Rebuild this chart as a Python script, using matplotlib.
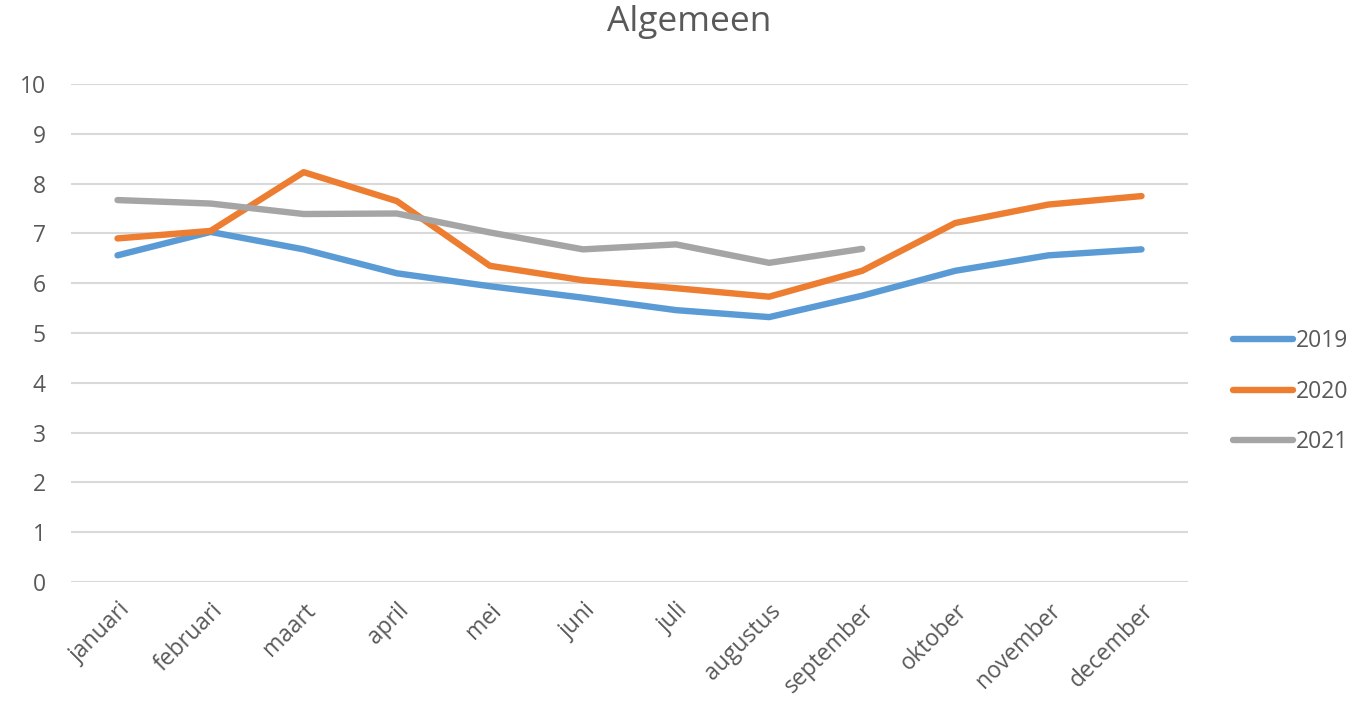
import matplotlib
matplotlib.use("Agg")
import matplotlib.pyplot as plt

plt.rcParams['font.family'] = ['Open Sans', 'DejaVu Sans']

months = ["januari", "februari", "maart", "april", "mei", "juni", "juli",
          "augustus", "september", "oktober", "november", "december"]
v2019 = [6.56, 7.03, 6.68, 6.2, 5.94, 5.71, 5.46, 5.32, 5.75, 6.25, 6.56, 6.68]
v2020 = [6.9, 7.05, 8.23, 7.65, 6.35, 6.06, 5.9, 5.73, 6.25, 7.21, 7.58, 7.75]
v2021 = [7.67, 7.6, 7.39, 7.4, 7.02, 6.68, 6.78, 6.41, 6.69]
series_labels = ["2019", "2020", "2021"]
colors = ["#5B9BD5", "#ED7D31", "#A5A5A5"]
yticks = list(range(0, 11))

fig = plt.figure(figsize=(13.57, 7.03), dpi=100)
ax = fig.add_axes([0.0523, 0.172, 0.8232, 0.7085])

x_all = list(range(len(months)))
for vals, lab, c in zip([v2019, v2020, v2021], series_labels, colors):
    ax.plot(x_all[:len(vals)], vals, color=c, lw=4.6, label=lab,
            solid_capstyle='round', solid_joinstyle='round')

ax.set_xlim(-0.5, len(months) - 0.5)
ax.set_ylim(0, 10)
ax.set_yticks(yticks)
ax.set_yticklabels([str(t) for t in yticks])
ax.set_xticks(x_all)
ax.set_xticklabels(months, rotation=45, ha='right', rotation_mode='anchor')
ax.tick_params(axis='both', length=0, labelsize=16.5, colors='#595959')
ax.tick_params(axis='y', pad=18)
ax.tick_params(axis='x', pad=12)
ax.grid(axis='y', color='#D9D9D9', lw=1.5)
ax.set_axisbelow(True)
for s in ax.spines.values():
    s.set_visible(False)

fig.text(0.508, 0.968, "Algemeen", ha='center', va='center', fontsize=25.5, color='#595959')

leg = ax.legend(loc='center left', bbox_to_anchor=(1.032, 0.382), borderaxespad=0,
                frameon=False, fontsize=16.5, labelcolor='#595959', handlelength=2.6,
                handletextpad=0.15, labelspacing=1.15)

fig.savefig("out.png", dpi=100)
